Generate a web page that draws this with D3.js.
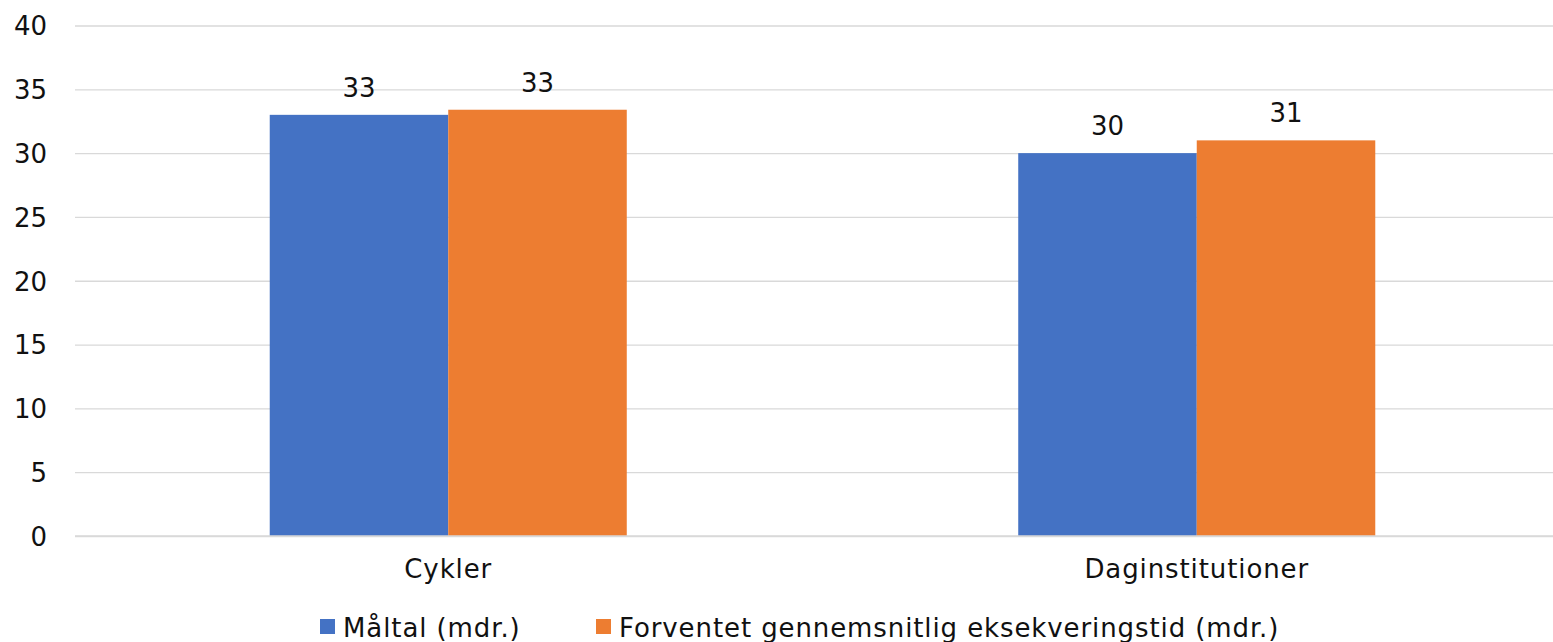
<!DOCTYPE html>
<html><head><meta charset="utf-8">
<script src="https://cdn.jsdelivr.net/npm/d3@7"></script>
<style>body{margin:0;background:#fff}svg{display:block}text{font-family:"DejaVu Sans",sans-serif;fill:#111}</style>
</head><body>
<svg id="c" width="1553" height="642"></svg>
<script>
const categories = ["Cykler", "Daginstitutioner"];
const seriesNames = ["Måltal (mdr.)", "Forventet gennemsnitlig eksekveringstid (mdr.)"];
const maaltal = [33.0, 30.0];
const forventet = [33.4, 31.0];
const maaltalLabels = ["33", "30"];
const forventetLabels = ["33", "31"];
const yTicks = [0, 5, 10, 15, 20, 25, 30, 35, 40];
const colors = ["#4472C4", "#ED7D31"];
const FONT = "DejaVu Sans";
const FS = 26;
const LS = "0.9px";

const svg = d3.select("#c");
const x0 = d3.scaleBand().domain(categories).range([74, 1571]).paddingInner(0.523).paddingOuter(0.2615);
const x1 = d3.scaleBand().domain([0, 1]).range([0, x0.bandwidth()]);
const y = d3.scaleLinear().domain([0, 40]).range([536, 25.5]);

const grid = svg.append("g")
  .call(d3.axisLeft(y).tickValues(yTicks).tickSize(-(1553 - 75)).tickFormat(d3.format("d")))
  .attr("transform", "translate(75,0)");
grid.select(".domain").remove();
grid.selectAll(".tick line").attr("stroke", "#d9d9d9").attr("stroke-width", 1.3);
grid.selectAll(".tick text").attr("x", -28).attr("font-size", FS).attr("dy", "0.36em").style("font-family", FONT).attr("fill", "#111");

const series = [maaltal, forventet];
const labels = [maaltalLabels, forventetLabels];
series.forEach((vals, s) => {
  const g = svg.append("g");
  g.selectAll("rect").data(categories).join("rect")
    .attr("x", (c) => x0(c) + x1(s))
    .attr("width", x1.bandwidth())
    .attr("y", (c, i) => y(vals[i]))
    .attr("height", (c, i) => y(0) - y(vals[i]))
    .attr("fill", colors[s]);
  g.selectAll("text").data(categories).join("text")
    .attr("x", (c) => x0(c) + x1(s) + x1.bandwidth() / 2)
    .attr("y", (c, i) => y(vals[i]) - 18)
    .attr("text-anchor", "middle")
    .attr("font-size", FS)
    .text((c, i) => labels[s][i]);
});

const xa = svg.append("g").attr("transform", "translate(0,536)")
  .call(d3.axisBottom(x0).tickSize(0).tickPadding(24));
xa.select(".domain").attr("stroke", "#d9d9d9").attr("stroke-width", 1.3).attr("d", "M75,0H1553");
xa.selectAll(".tick text").attr("font-size", FS).style("font-family", FONT).style("letter-spacing", LS).attr("fill", "#111");

const legX = [320, 596];
const leg = svg.append("g");
seriesNames.forEach((n, i) => {
  leg.append("rect").attr("x", legX[i]).attr("y", 619).attr("width", 15).attr("height", 15).attr("fill", colors[i]);
  leg.append("text").attr("x", legX[i] + 23).attr("y", 637).attr("font-size", FS).style("letter-spacing", LS).text(n);
});
</script>
</body></html>
